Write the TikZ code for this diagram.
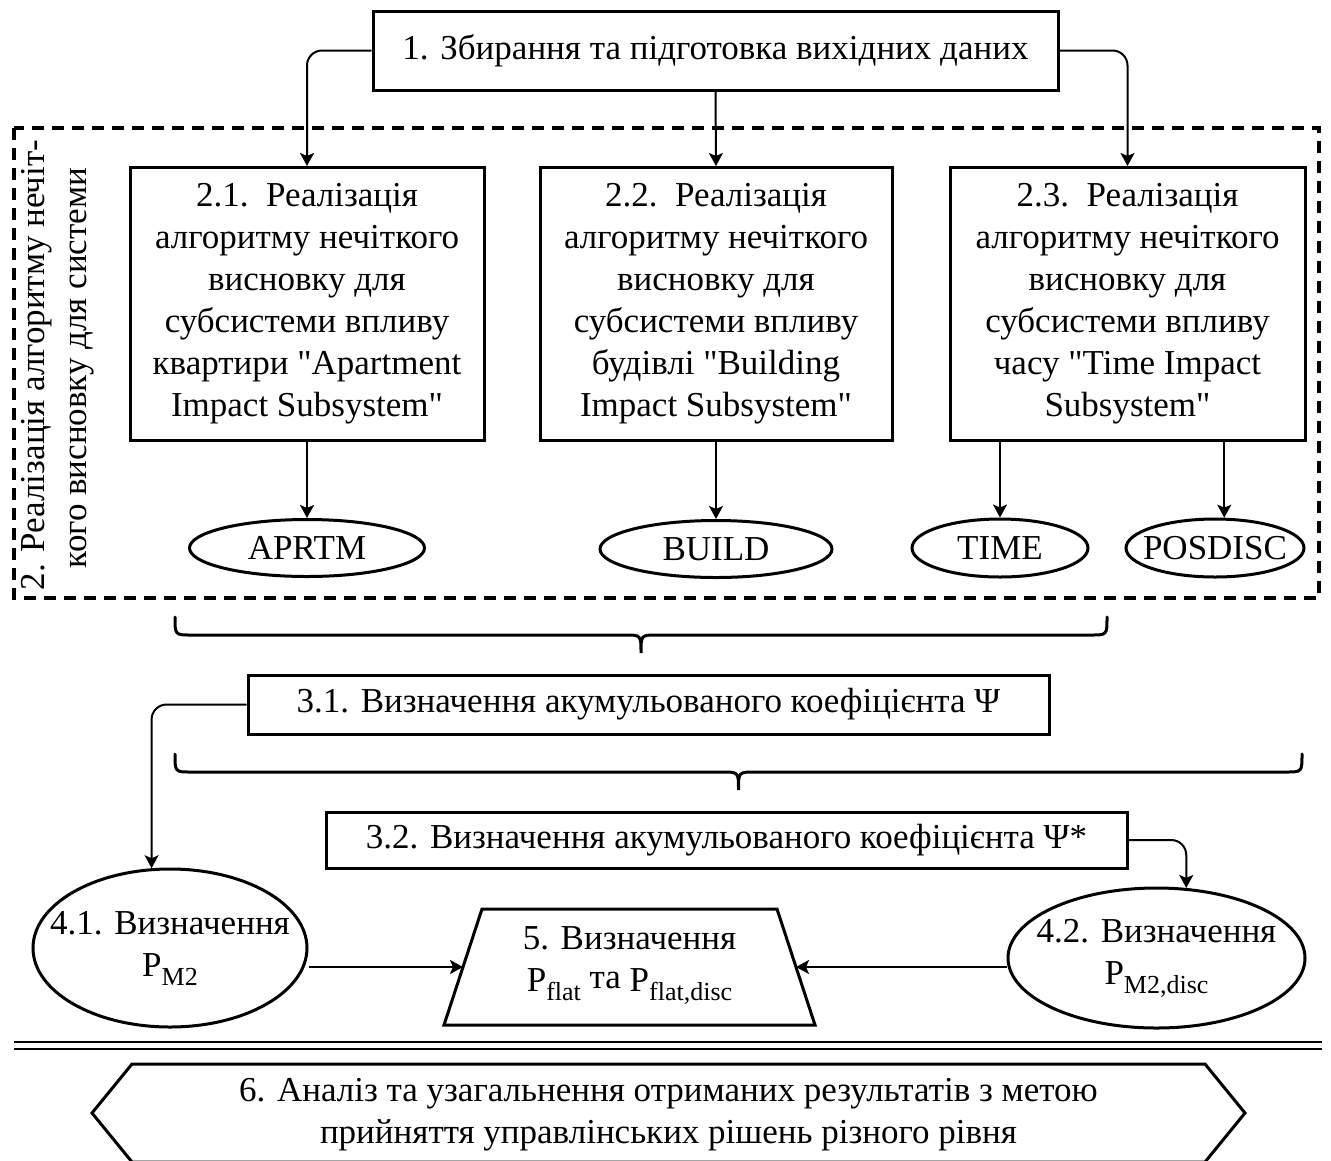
\documentclass[tikz,border=0pt]{standalone}
\usepackage{fontspec}
\setmainfont{Liberation Serif}[Ligatures=TeXOff]
\usetikzlibrary{arrows.meta,shapes.geometric,calc}
\newcommand\mysub[1]{\raisebox{-9pt}{\fontsize{26}{26}\selectfont #1}}
\begin{document}
\begin{tikzpicture}[x=1pt,y=-1pt,
  font=\fontsize{35}{42}\selectfont,
  box/.style={draw, line width=3pt, align=center, inner sep=0pt},
  ell/.style={draw, ellipse, line width=3pt, inner sep=0pt},
  arr/.style={line width=2pt, -{Stealth[length=13pt,width=14pt,inset=3pt]}},
  dbox/.style={line width=3.2pt, dash pattern=on 12pt off 8pt},
  brc/.style={line width=3pt, line cap=round},
  txt/.style={align=center, inner sep=0pt}]
\useasboundingbox (0,0) rectangle (1331,1160);

% top box
\node[box, minimum width=685, minimum height=79] (b1) at (715.5,50.5) {1. Збирання та підготовка вихідних даних};

% dashed group
\draw[dbox] (14,128) rectangle (1319,598);
\node[rotate=90, txt] (r1) at (37,365) {2. Реалізація алгоритму нечіт-};
\node[rotate=90, txt] (r2) at (82,368) {кого висновку для системи};

\node[box, minimum width=354, minimum height=273] (b21) at (307,304) {2.1.\ \ Реалізація\\алгоритму нечіткого\\висновку для\\субсистеми впливу\\квартири "Apartment\\Impact Subsystem"};
\node[box, minimum width=352, minimum height=273] (b22) at (716,304) {2.2.\ \ Реалізація\\алгоритму нечіткого\\висновку для\\субсистеми впливу\\будівлі "Building\\Impact Subsystem"};
\node[box, minimum width=355, minimum height=273] (b23) at (1127.5,304) {2.3.\ \ Реалізація\\алгоритму нечіткого\\висновку для\\субсистеми впливу\\часу "Time Impact\\Subsystem"};

\node[ell, minimum width=235, minimum height=57] (ea) at (307,548) {};
\node[txt] (eat) at (ea.center) {APRTM};
\node[ell, minimum width=232, minimum height=57] (eb) at (716,549) {};
\node[txt] (ebt) at (eb.center) {BUILD};
\node[ell, minimum width=176, minimum height=58] (et) at (1000,548) {};
\node[txt] (ett) at (et.center) {TIME};
\node[ell, minimum width=178, minimum height=58] (ep) at (1215,548) {};
\node[txt] (ept) at (ep.center) {POSDISC};

\draw[arr, rounded corners=15pt] (b1.west) -| (b21.north);
\draw[arr] (b1.south) -- (b22.north);
\draw[arr, rounded corners=15pt] (b1.east) -| (b23.north);
\draw[arr] (b21.south) -- (ea.north);
\draw[arr] (b22.south) -- (eb.north);
\draw[arr] (et.north |- b23.south) -- (et.north);
\draw[arr] (ep.73 |- b23.south) -- (ep.73);

% brace 1
\draw[brc] (175,617) .. controls (175,635) .. (191,635) -- (625,635)
  .. controls (641,635) .. (641,653) .. controls (641,635) .. (657,635)
  -- (1091,635) .. controls (1107,635) .. (1107,617);

\node[box, minimum width=801, minimum height=59] (b31) at (648.5,704.5) {3.1. Визначення акумульованого коефіцієнта Ψ};

% brace 2
\draw[brc] (175,754) .. controls (175,772) .. (191,772) -- (722,772)
  .. controls (738.5,772) .. (738.5,790) .. controls (738.5,772) .. (755,772)
  -- (1286,772) .. controls (1302,772) .. (1302,754);

\node[box, minimum width=801, minimum height=56] (b32) at (726.5,840) {3.2. Визначення акумульованого коефіцієнта Ψ*};

% level 4 and 5
\node[ell, minimum width=274, minimum height=158] (c41) at (170,948) {};
\node[txt] (c41t) at (c41.center) {4.1. Визначення\\P\mysub{М2}};
\node[ell, minimum width=297, minimum height=140] (c42) at (1156.5,958) {};
\node[txt] (c42t) at (c42.center) {4.2. Визначення\\P\mysub{М2,disc}};

% trapezoid 5
\coordinate (t5tl) at (482,909);
\coordinate (t5tr) at (777,909);
\coordinate (t5br) at (815,1025);
\coordinate (t5bl) at (444,1025);
\draw[line width=3pt, line join=miter] (t5tl) -- (t5tr) -- (t5br) -- (t5bl) -- cycle;
\coordinate (t5L) at ($(t5tl)!0.5!(t5bl)$);
\coordinate (t5R) at ($(t5tr)!0.5!(t5br)$);
\node[txt] (t5) at (629.5,966) {5. Визначення\\P\mysub{flat} \raisebox{3pt}{та} P\mysub{flat,disc}};

\draw[arr, rounded corners=15pt] (b31.west) -| (c41.103);
\draw[arr, rounded corners=15pt] (b32.east) -| (c42.67);
\draw[arr] (c41.east |- t5L) -- (t5L);
\draw[arr] (c42.west |- t5R) -- (t5R);

% separator
\draw[line width=2.5pt] (14,1042) -- (1322,1042);
\draw[line width=2.5pt] (14,1049) -- (1322,1049);

% hexagon 6
\draw[line width=3pt, line join=miter] (92,1113) -- (132,1064) -- (1205,1064) -- (1245,1113) -- (1205,1162) -- (132,1162) -- cycle;
\node[txt] (n6) at (668.5,1115) {6. Аналіз та узагальнення отриманих результатів з метою\\прийняття управлінських рішень різного рівня};
\end{tikzpicture}
\end{document}
